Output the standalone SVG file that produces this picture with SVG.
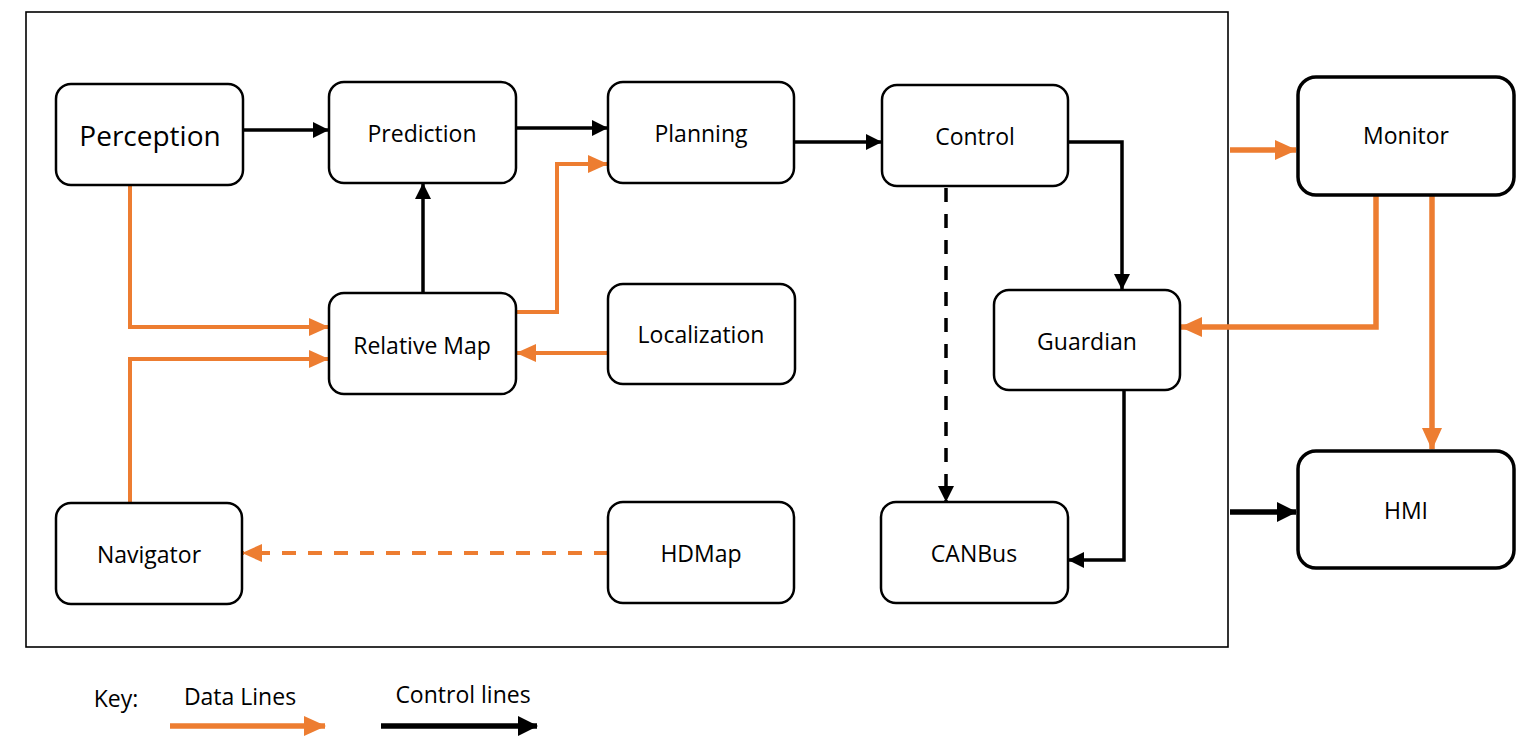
<svg xmlns="http://www.w3.org/2000/svg" width="1531" height="742" viewBox="0 0 1531 742">
<style>
.node rect{fill:#fff;stroke:#000;stroke-width:2.5}
.big rect{stroke-width:3.5}
text{font-family:"Open Sans","Liberation Sans",sans-serif;font-size:23px;fill:#000;text-anchor:middle;dominant-baseline:central}
.c{fill:none;stroke:#000;stroke-width:3.5}
.d{fill:none;stroke:#ED7D31;stroke-width:4}
.w{stroke-width:5.5}
.dash{stroke-dasharray:14 12}
</style>
<defs>
<marker id="ab" markerUnits="userSpaceOnUse" markerWidth="16" markerHeight="16" refX="15" refY="8" orient="auto"><path d="M0,0 L16,8 L0,16 Z" fill="#000"/></marker>
<marker id="ao" markerUnits="userSpaceOnUse" markerWidth="20" markerHeight="18" refX="19" refY="9" orient="auto"><path d="M0,0 L20,9 L0,18 Z" fill="#ED7D31"/></marker>
<marker id="abk" markerUnits="userSpaceOnUse" markerWidth="20" markerHeight="20" refX="19" refY="10" orient="auto"><path d="M0,0 L20,10 L0,20 Z" fill="#000"/></marker>
<marker id="aok" markerUnits="userSpaceOnUse" markerWidth="22" markerHeight="20" refX="21" refY="10" orient="auto"><path d="M0,0 L22,10 L0,20 Z" fill="#ED7D31"/></marker>
</defs>
<rect x="26" y="12" width="1202" height="635" fill="none" stroke="#000" stroke-width="1.6"/>
<g id="connectors">
<path class="c" d="M243,130 H328" marker-end="url(#ab)"/>
<path class="c" d="M516,128 H607" marker-end="url(#ab)"/>
<path class="c" d="M794,142 H881" marker-end="url(#ab)"/>
<path class="c" d="M1068,142 H1122 V289" marker-end="url(#ab)"/>
<path class="c dash" d="M946,188 V501" marker-end="url(#ab)"/>
<path class="c" d="M1124,390 V560 H1069" marker-end="url(#ab)"/>
<path class="c" d="M423,293 V184" marker-end="url(#ab)"/>
<path class="d" d="M130,185 V327 H328" marker-end="url(#ao)"/>
<path class="d" d="M130,503 V359 H328" marker-end="url(#ao)"/>
<path class="d" d="M516,312 H557 V164 H607" marker-end="url(#ao)"/>
<path class="d" d="M608,353 H517" marker-end="url(#ao)"/>
<path class="d dash" d="M608,553 H243" marker-end="url(#ao)"/>
<path class="d w" d="M1230,150 H1296" marker-end="url(#aok)"/>
<path class="d w" d="M1376,196 V327 H1181" marker-end="url(#aok)"/>
<path class="d w" d="M1432,196 V449" marker-end="url(#aok)"/>
<path class="c w" d="M1230,512 H1296" marker-end="url(#abk)"/>
</g>
<g id="perception" class="node"><rect x="56" y="84" width="187" height="101" rx="15"/><text x="150" y="135" style="font-size:28px">Perception</text></g>
<g id="prediction" class="node"><rect x="329" y="82" width="187" height="101" rx="15"/><text x="422" y="133">Prediction</text></g>
<g id="planning" class="node"><rect x="608" y="82" width="186" height="101" rx="15"/><text x="701" y="133">Planning</text></g>
<g id="control" class="node"><rect x="882" y="85" width="186" height="101" rx="15"/><text x="975" y="136">Control</text></g>
<g id="relative-map" class="node"><rect x="329" y="293" width="187" height="101" rx="15"/><text x="422" y="345">Relative Map</text></g>
<g id="localization" class="node"><rect x="608" y="284" width="187" height="100" rx="15"/><text x="701" y="334">Localization</text></g>
<g id="guardian" class="node"><rect x="994" y="290" width="186" height="100" rx="15"/><text x="1087" y="341">Guardian</text></g>
<g id="navigator" class="node"><rect x="56" y="503" width="186" height="101" rx="15"/><text x="149" y="554">Navigator</text></g>
<g id="hdmap" class="node"><rect x="608" y="502" width="186" height="101" rx="15"/><text x="701" y="553">HDMap</text></g>
<g id="canbus" class="node"><rect x="881" y="502" width="187" height="101" rx="15"/><text x="974" y="553">CANBus</text></g>
<g id="monitor" class="node big"><rect x="1298" y="77" width="216" height="118" rx="18"/><text x="1406" y="135">Monitor</text></g>
<g id="hmi" class="node big"><rect x="1298" y="451" width="216" height="117" rx="18"/><text x="1406" y="510">HMI</text></g>
<g id="key">
<text x="116" y="698">Key:</text>
<text x="240" y="696">Data Lines</text>
<path class="d w" d="M170,726 H325" marker-end="url(#aok)"/>
<text x="463" y="694">Control lines</text>
<path class="c w" d="M381,726 H537" marker-end="url(#abk)"/>
</g>
</svg>
